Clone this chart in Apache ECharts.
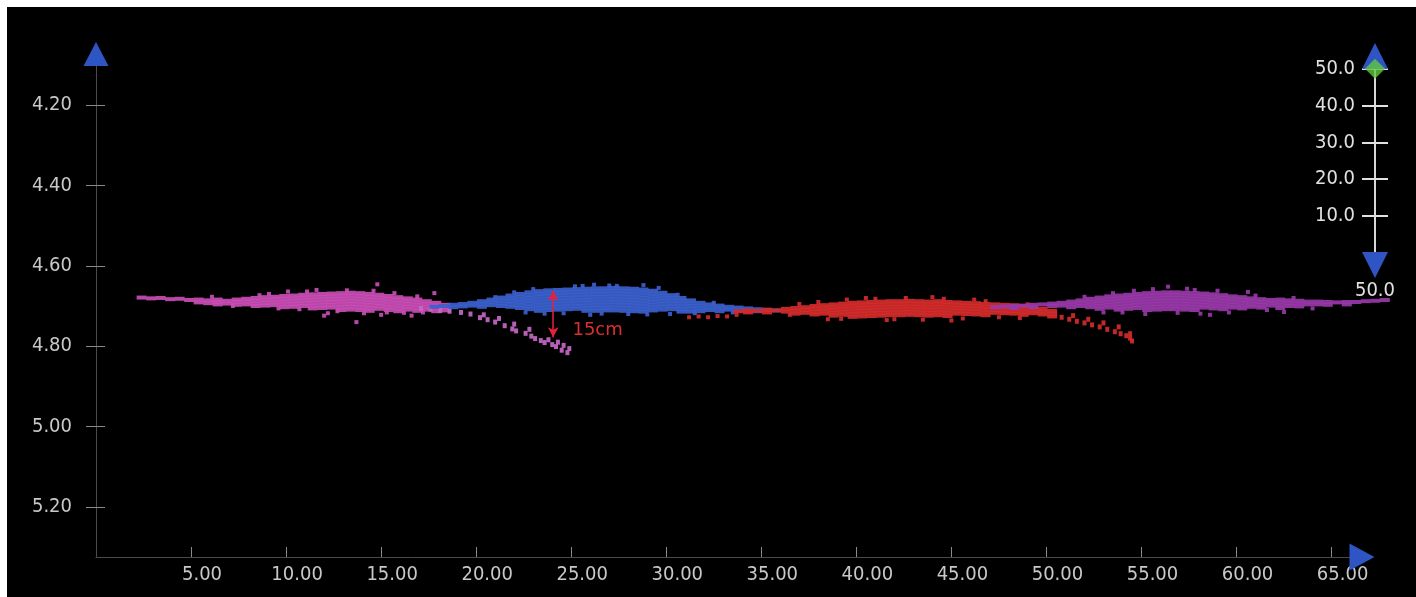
<!DOCTYPE html>
<html>
<head>
<meta charset="utf-8">
<script src="https://cdn.jsdelivr.net/npm/echarts@6/dist/echarts.min.js"></script>
<style>
html, body { margin: 0; padding: 0; background: #fff; overflow: hidden; width: 100%; height: 100%; }
#bg { position: fixed; left: 7px; top: 7px; width: 3000px; height: 3000px; background: #000; }
#chart { position: fixed; left: 0; top: 0; width: 1416px; height: 597px; }
</style>
</head>
<body>
<div id="bg"></div>
<div id="chart"></div>
<script>
// tick labels
var xTicks = [5, 10, 15, 20, 25, 30, 35, 40, 45, 50, 55, 60, 65];
var yTicks = [4.2, 4.4, 4.6, 4.8, 5.0, 5.2];
var sliderTicks = [10, 20, 30, 40, 50];
var sliderValue = 50;
var sliderName = "50.0";

// measured gap between the two scans: [x, top, bottom]
var gapMark = [24.05, 4.662, 4.778];
var gapText = "15cm";

// point clouds, columns as [x, [y...]]
var pinkCols = [
  [2.4, [4.679]], [2.9, [4.681]], [3.4, [4.680]], [3.9, [4.683]], [4.4, [4.682]], [4.9, [4.685]],
  [5.4, [4.684, 4.691]], [5.9, [4.686, 4.693]], [6.4, [4.684, 4.690, 4.696]], [6.9, [4.687, 4.694]],
  [7.4, [4.684, 4.690, 4.697]], [7.9, [4.682, 4.689, 4.696]], [8.4, [4.680, 4.687, 4.694, 4.700]],
  [8.9, [4.678, 4.685, 4.692, 4.699]], [9.4, [4.677, 4.684, 4.691, 4.698]],
  [9.9, [4.675, 4.682, 4.689, 4.696, 4.703]], [10.4, [4.674, 4.681, 4.688, 4.695, 4.702]],
  [10.9, [4.672, 4.679, 4.686, 4.693, 4.700]], [11.4, [4.671, 4.678, 4.685, 4.692, 4.699, 4.706]],
  [11.9, [4.670, 4.677, 4.684, 4.691, 4.698, 4.705]], [12.4, [4.669, 4.676, 4.683, 4.690, 4.697, 4.704]],
  [12.9, [4.668, 4.675, 4.682, 4.689, 4.696, 4.703, 4.710]], [13.4, [4.667, 4.674, 4.681, 4.688, 4.695, 4.702, 4.709]],
  [13.9, [4.668, 4.675, 4.682, 4.689, 4.696, 4.703, 4.710]], [14.4, [4.670, 4.677, 4.684, 4.691, 4.698, 4.705, 4.712]],
  [14.9, [4.672, 4.679, 4.686, 4.693, 4.700, 4.707]], [15.4, [4.675, 4.682, 4.689, 4.696, 4.703, 4.710]],
  [15.9, [4.678, 4.685, 4.692, 4.699, 4.706, 4.713]], [16.4, [4.681, 4.688, 4.695, 4.702, 4.709]],
  [16.9, [4.684, 4.691, 4.698, 4.705, 4.712]], [17.4, [4.688, 4.695, 4.702, 4.709]],
  [17.9, [4.692, 4.699, 4.706, 4.713]], [18.4, [4.697, 4.704, 4.711]]
];
var pinkLoose = [
  [14.8, 4.646], [13.7, 4.740], [12.2, 4.718], [16.6, 4.724], [10.1, 4.664],
  [17.8, 4.668], [15.3, 4.716], [11.6, 4.660], [8.6, 4.673], [9.6, 4.706],
  [6.1, 4.677], [7.2, 4.700], [9.1, 4.670], [10.7, 4.708], [11.1, 4.664], [12.7, 4.713],
  [13.2, 4.661], [14.1, 4.718], [14.6, 4.662], [15.7, 4.668], [16.2, 4.717], [17.2, 4.716],
  [12.0, 4.724], [15.0, 4.722], [16.9, 4.676]
];
var pinkTail = [
  [17.1, 4.706], [17.6, 4.708], [18.1, 4.711], [18.6, 4.713], [19.2, 4.716], [19.7, 4.720],
  [20.2, 4.729], [20.4, 4.722], [20.6, 4.734], [21.0, 4.740], [21.2, 4.731], [21.5, 4.749],
  [21.9, 4.757], [22.0, 4.745], [22.1, 4.762], [22.6, 4.768], [22.8, 4.758], [22.9, 4.775],
  [23.1, 4.781], [23.4, 4.786], [23.6, 4.791], [23.8, 4.784], [24.0, 4.796], [24.2, 4.801],
  [24.3, 4.790], [24.5, 4.810], [24.6, 4.798], [24.8, 4.816], [24.9, 4.806]
];

var blueCols = [
  [17.8, [4.702]], [18.3, [4.700]], [18.8, [4.697, 4.703]], [19.3, [4.695, 4.701]], [19.8, [4.692, 4.699]],
  [20.3, [4.688, 4.695, 4.702]], [20.8, [4.684, 4.691, 4.698]], [21.3, [4.679, 4.686, 4.693, 4.700]],
  [21.8, [4.674, 4.681, 4.688, 4.695, 4.702]], [22.3, [4.670, 4.677, 4.684, 4.691, 4.698, 4.705]],
  [22.8, [4.666, 4.673, 4.680, 4.687, 4.694, 4.701, 4.708]],
  [23.3, [4.663, 4.670, 4.677, 4.684, 4.691, 4.698, 4.705, 4.712]],
  [23.8, [4.661, 4.668, 4.675, 4.682, 4.689, 4.696, 4.703, 4.710]],
  [24.3, [4.660, 4.667, 4.674, 4.681, 4.688, 4.695, 4.702, 4.709]],
  [24.8, [4.659, 4.666, 4.673, 4.680, 4.687, 4.694, 4.701, 4.708]],
  [25.3, [4.658, 4.665, 4.672, 4.679, 4.686, 4.693, 4.700, 4.707]],
  [25.8, [4.657, 4.664, 4.671, 4.678, 4.685, 4.692, 4.699, 4.706, 4.712]],
  [26.3, [4.656, 4.663, 4.670, 4.677, 4.684, 4.691, 4.698, 4.705, 4.712]],
  [26.8, [4.656, 4.663, 4.670, 4.677, 4.684, 4.691, 4.698, 4.705, 4.711]],
  [27.3, [4.655, 4.662, 4.669, 4.676, 4.683, 4.690, 4.697, 4.704, 4.711]],
  [27.8, [4.656, 4.663, 4.670, 4.677, 4.684, 4.691, 4.698, 4.705, 4.712]],
  [28.3, [4.657, 4.664, 4.671, 4.678, 4.685, 4.692, 4.699, 4.706, 4.713]],
  [28.8, [4.659, 4.666, 4.673, 4.680, 4.687, 4.694, 4.701, 4.708, 4.714]],
  [29.3, [4.662, 4.669, 4.676, 4.683, 4.690, 4.697, 4.704, 4.711]],
  [29.8, [4.667, 4.674, 4.681, 4.688, 4.695, 4.702, 4.709]],
  [30.3, [4.673, 4.680, 4.687, 4.694, 4.701, 4.708]], [30.8, [4.680, 4.687, 4.694, 4.701, 4.708, 4.714]],
  [31.3, [4.686, 4.693, 4.700, 4.707, 4.714]], [31.8, [4.692, 4.699, 4.706, 4.713]],
  [32.3, [4.696, 4.703, 4.710]], [32.8, [4.699, 4.706, 4.713]], [33.3, [4.702, 4.709]],
  [33.8, [4.704, 4.711]], [34.3, [4.706, 4.712]], [34.8, [4.708, 4.713]], [35.3, [4.710]], [35.8, [4.711]]
];
var blueLoose = [
  [27.4, 4.650], [28.8, 4.648], [26.0, 4.722], [30.2, 4.720], [25.2, 4.651], [22.6, 4.716], [29.6, 4.655],
  [21.0, 4.678], [22.0, 4.666], [23.0, 4.658], [24.6, 4.718], [25.6, 4.650], [26.6, 4.719],
  [27.0, 4.649], [28.0, 4.720], [29.0, 4.721], [30.6, 4.672], [31.5, 4.718], [32.5, 4.692],
  [33.5, 4.716], [23.6, 4.719], [26.2, 4.647]
];

var redCols = [
  [33.8, [4.713]], [34.3, [4.711, 4.716]], [34.8, [4.712]], [35.3, [4.709, 4.716]], [35.8, [4.711]],
  [36.3, [4.707, 4.714]], [36.8, [4.705, 4.712, 4.719]], [37.3, [4.703, 4.710, 4.717]],
  [37.8, [4.700, 4.707, 4.714, 4.721]], [38.3, [4.698, 4.705, 4.712, 4.719]],
  [38.8, [4.696, 4.703, 4.710, 4.717, 4.724]], [39.3, [4.694, 4.701, 4.708, 4.715, 4.722]],
  [39.8, [4.692, 4.699, 4.706, 4.713, 4.720, 4.727]], [40.3, [4.691, 4.698, 4.705, 4.712, 4.719, 4.726]],
  [40.8, [4.690, 4.697, 4.704, 4.711, 4.718, 4.725]], [41.3, [4.689, 4.696, 4.703, 4.710, 4.717, 4.724]],
  [41.8, [4.688, 4.695, 4.702, 4.709, 4.716, 4.723]], [42.3, [4.688, 4.695, 4.702, 4.709, 4.716, 4.723]],
  [42.8, [4.687, 4.694, 4.701, 4.708, 4.715, 4.722]], [43.3, [4.688, 4.695, 4.702, 4.709, 4.716, 4.723]],
  [43.8, [4.689, 4.696, 4.703, 4.710, 4.717, 4.724]], [44.3, [4.688, 4.695, 4.702, 4.709, 4.716, 4.723]],
  [44.8, [4.690, 4.697, 4.704, 4.711, 4.718, 4.725]], [45.3, [4.691, 4.698, 4.705, 4.712, 4.719]],
  [45.8, [4.692, 4.699, 4.706, 4.713, 4.720]], [46.3, [4.693, 4.700, 4.707, 4.714, 4.721]],
  [46.8, [4.695, 4.702, 4.709, 4.716, 4.723]], [47.3, [4.696, 4.703, 4.710, 4.717]],
  [47.8, [4.697, 4.704, 4.711, 4.718]], [48.3, [4.698, 4.705, 4.712, 4.719]],
  [48.8, [4.701, 4.708, 4.715, 4.722]], [49.3, [4.704, 4.711, 4.718]], [49.8, [4.707, 4.714, 4.721]],
  [50.3, [4.712, 4.719, 4.726]]
];
var redLoose = [
  [31.2, 4.728], [31.7, 4.726], [32.2, 4.728], [32.7, 4.725], [33.2, 4.726], [33.7, 4.722],
  [40.5, 4.680], [44.0, 4.678], [46.2, 4.684], [42.0, 4.733], [38.5, 4.733], [45.6, 4.731], [48.6, 4.730],
  [37.0, 4.695], [38.0, 4.690], [39.5, 4.684], [41.0, 4.682], [42.6, 4.680], [43.5, 4.734],
  [44.6, 4.682], [45.0, 4.736], [46.8, 4.688], [47.5, 4.728], [39.2, 4.732], [41.6, 4.735],
  [36.5, 4.722], [49.0, 4.696]
];
var redTail = [
  [50.8, 4.728], [51.2, 4.733], [51.4, 4.724], [51.6, 4.738], [52.0, 4.742], [52.2, 4.733],
  [52.4, 4.747], [52.8, 4.752], [53.0, 4.742], [53.2, 4.758], [53.6, 4.764], [53.8, 4.752],
  [53.9, 4.769], [54.2, 4.774], [54.4, 4.769], [54.4, 4.780], [54.5, 4.787]
];

var purpleCols = [
  [47.3, [4.703]], [47.8, [4.701]], [48.3, [4.700, 4.705]], [48.8, [4.699]], [49.3, [4.697, 4.703]],
  [49.8, [4.696]], [50.3, [4.694, 4.700]], [50.8, [4.692, 4.699]], [51.3, [4.689, 4.696, 4.703]],
  [51.8, [4.686, 4.693, 4.700]], [52.3, [4.682, 4.689, 4.696, 4.703]],
  [52.8, [4.679, 4.686, 4.693, 4.700, 4.707]], [53.3, [4.676, 4.683, 4.690, 4.697, 4.704]],
  [53.8, [4.674, 4.681, 4.688, 4.695, 4.702, 4.709]], [54.3, [4.672, 4.679, 4.686, 4.693, 4.700, 4.707]],
  [54.8, [4.670, 4.677, 4.684, 4.691, 4.698, 4.705]], [55.3, [4.668, 4.675, 4.682, 4.689, 4.696, 4.703, 4.710]],
  [55.8, [4.667, 4.674, 4.681, 4.688, 4.695, 4.702, 4.709]], [56.3, [4.666, 4.673, 4.680, 4.687, 4.694, 4.701, 4.708]],
  [56.8, [4.666, 4.673, 4.680, 4.687, 4.694, 4.701, 4.708]], [57.3, [4.667, 4.674, 4.681, 4.688, 4.695, 4.702, 4.709]],
  [57.8, [4.668, 4.675, 4.682, 4.689, 4.696, 4.703, 4.710]], [58.3, [4.669, 4.676, 4.683, 4.690, 4.697, 4.704]],
  [58.8, [4.671, 4.678, 4.685, 4.692, 4.699, 4.706]], [59.3, [4.673, 4.680, 4.687, 4.694, 4.701, 4.708]],
  [59.8, [4.676, 4.683, 4.690, 4.697, 4.704]], [60.3, [4.678, 4.685, 4.692, 4.699, 4.706]],
  [60.8, [4.681, 4.688, 4.695, 4.702]], [61.3, [4.683, 4.690, 4.697, 4.704]], [61.8, [4.685, 4.692, 4.699]],
  [62.3, [4.684, 4.691, 4.698, 4.705]], [62.8, [4.686, 4.693, 4.700]], [63.3, [4.687, 4.694, 4.701]],
  [63.8, [4.689, 4.696]], [64.3, [4.689, 4.696]], [64.8, [4.690, 4.697]], [65.3, [4.691]],
  [65.8, [4.690, 4.696]], [66.3, [4.690]], [66.8, [4.688]], [67.3, [4.687]], [67.8, [4.685]]
];
var purpleLoose = [
  [56.4, 4.652], [57.8, 4.660], [60.6, 4.665], [55.2, 4.720], [58.6, 4.722], [62.5, 4.715], [53.0, 4.716],
  [52.0, 4.677], [53.5, 4.668], [54.6, 4.662], [55.6, 4.658], [56.9, 4.717], [57.4, 4.657],
  [59.0, 4.662], [59.6, 4.716], [61.0, 4.674], [61.6, 4.710], [63.0, 4.680], [64.0, 4.706],
  [54.0, 4.716], [58.1, 4.719]
];

var FONT = "'DejaVu Sans Condensed', 'Liberation Sans Narrow', sans-serif";
var ARROW = "#2f55c4";

function flatten(cols) {
  var out = [];
  cols.forEach(function (c) {
    c[1].forEach(function (y) { out.push([c[0], y]); });
  });
  return out;
}

function cloud(name, data, color, size, z) {
  return {
    name: name,
    type: "scatter",
    data: data,
    symbol: "rect",
    symbolSize: size,
    clip: false,
    silent: true,
    z: z,
    itemStyle: { color: color, opacity: 0.92 }
  };
}

var chart = echarts.init(document.getElementById("chart"));

var option = {
  backgroundColor: "transparent",
  animation: false,
  grid: [
    { left: 96, right: 54, top: 54, bottom: 40 },
    { left: 1375, width: 2, top: 56, height: 209 }
  ],
  xAxis: [
    {
      type: "value", gridIndex: 0, min: 0, max: 66.6, position: "bottom",
      axisLine: { onZero: false, lineStyle: { color: "#4a4a4a", width: 1 } },
      axisTick: { customValues: xTicks, inside: true, length: 10, lineStyle: { color: "#8a8a8a" } },
      axisLabel: {
        customValues: xTicks, color: "#c8c8c8", fontSize: 20, fontFamily: FONT,
        margin: 8, padding: [0, 0, 0, 22],
        formatter: function (v) { return v.toFixed(2); }
      },
      splitLine: { show: false }
    },
    {
      // only draws the blue arrow head
      type: "value", gridIndex: 0, min: 0, max: 1, position: "bottom",
      axisLine: { onZero: false, symbol: ["none", "triangle"], symbolSize: [27, 25], lineStyle: { color: ARROW, width: 0 } },
      axisTick: { show: false }, axisLabel: { show: false }, splitLine: { show: false }
    },
    { type: "value", gridIndex: 1, min: 0, max: 1, show: false }
  ],
  yAxis: [
    {
      type: "value", gridIndex: 0, inverse: true, min: 4.073, max: 5.3245, position: "left",
      axisLine: { onZero: false, lineStyle: { color: "#4a4a4a", width: 1 } },
      axisTick: { customValues: yTicks, length: 10, lineStyle: { color: "#8a8a8a" } },
      axisLabel: {
        customValues: yTicks, color: "#c8c8c8", fontSize: 20, fontFamily: FONT, margin: 24,
        formatter: function (v) { return v.toFixed(2); }
      },
      splitLine: { show: false }
    },
    {
      // blue arrow head + right half of the ticks
      type: "value", gridIndex: 0, min: -5.3245, max: -4.073, position: "left",
      axisLine: { onZero: false, symbol: ["none", "triangle"], symbolSize: [25, 24], lineStyle: { color: ARROW, width: 0 } },
      axisTick: { customValues: yTicks.map(function (v) { return -v; }), inside: true, length: 9, lineStyle: { color: "#8a8a8a" } },
      axisLabel: { show: false }, splitLine: { show: false }
    },
    {
      type: "value", gridIndex: 1, min: -3.35, max: 53.5, position: "left",
      name: sliderName, nameLocation: "start", nameGap: 16,
      nameTextStyle: { color: "#e0e0e0", fontSize: 20, fontFamily: FONT },
      axisLine: { onZero: false, lineStyle: { color: "#d8d8d8", width: 2 } },
      axisTick: { customValues: sliderTicks, length: 13, lineStyle: { color: "#e0e0e0", width: 2 } },
      axisLabel: {
        customValues: sliderTicks, color: "#e0e0e0", fontSize: 20, fontFamily: FONT, margin: 20,
        formatter: function (v) { return v.toFixed(1); }
      },
      splitLine: { show: false }
    },
    {
      type: "value", gridIndex: 1, min: -3.35, max: 53.5, position: "left",
      axisLine: { onZero: false, symbol: ["triangle", "triangle"], symbolSize: [26, 26], lineStyle: { color: ARROW, width: 0 } },
      axisTick: { customValues: sliderTicks, inside: true, length: 13, lineStyle: { color: "#e0e0e0", width: 2 } },
      axisLabel: { show: false }, splitLine: { show: false }
    }
  ],
  series: [
    cloud("pink", flatten(pinkCols), "#c94db5", [10, 4], 2),
    cloud("pinkLoose", pinkLoose, "#c94db5", [4, 4], 2),
    cloud("pinkTail", pinkTail, "#c468c6", [4, 5], 2),
    cloud("blue", flatten(blueCols), "#3b5fcc", [10, 4], 3),
    cloud("blueLoose", blueLoose, "#3b5fcc", [4, 4], 3),
    cloud("red", flatten(redCols), "#d42b2b", [10, 4], 4),
    cloud("redLoose", redLoose, "#d42b2b", [4, 4], 4),
    cloud("redTail", redTail, "#d42b2b", [4, 5], 4),
    cloud("purple", flatten(purpleCols), "#9838a8", [10, 4], 5),
    cloud("purpleLoose", purpleLoose, "#9838a8", [4, 4], 5),
    {
      name: "gap",
      type: "scatter",
      data: [[gapMark[0], gapMark[1]]],
      symbolSize: 0,
      silent: true,
      z: 8,
      markLine: {
        silent: true,
        symbol: ["arrow", "arrow"],
        symbolSize: [8, 10],
        label: { show: false },
        lineStyle: { color: "#e8203c", width: 1.5, type: "solid" },
        data: [[{ coord: [gapMark[0], gapMark[1]] }, { coord: [gapMark[0], gapMark[2]] }]]
      },
      markPoint: {
        silent: true,
        symbol: "circle",
        symbolSize: 0,
        label: {
          show: true, position: "right", formatter: gapText,
          color: "#d83030", fontSize: 18, fontFamily: "'DejaVu Sans', sans-serif"
        },
        data: [{ coord: [24.8, 4.760] }]
      }
    },
    {
      name: "slider",
      type: "scatter",
      xAxisIndex: 2,
      yAxisIndex: 2,
      data: [[0, sliderValue]],
      symbol: "diamond",
      symbolSize: [20, 20],
      silent: true,
      z: 20,
      itemStyle: { color: "#62c840" }
    }
  ]
};

chart.setOption(option);
window.addEventListener("resize", function () { chart.resize(); });
</script>
</body>
</html>
